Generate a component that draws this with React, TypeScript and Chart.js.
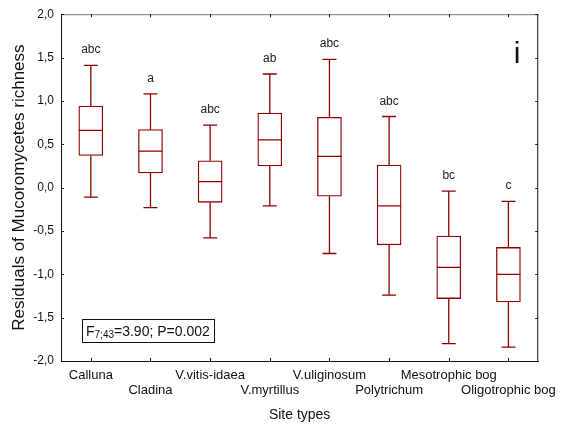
import React, { useEffect, useRef } from "react";
import { Chart, registerables } from "chart.js";

Chart.register(...registerables);

const categories = [
  "Calluna",
  "Cladina",
  "V.vitis-idaea",
  "V.myrtillus",
  "V.uliginosum",
  "Polytrichum",
  "Mesotrophic bog",
  "Oligotrophic bog",
];
const whiskerMax = [1.41, 1.08, 0.72, 1.31, 1.48, 0.82, -0.04, -0.16];
const q3 = [0.94, 0.67, 0.31, 0.86, 0.81, 0.26, -0.56, -0.69];
const medians = [0.66, 0.42, 0.07, 0.55, 0.36, -0.21, -0.92, -1.0];
const q1 = [0.37, 0.17, -0.17, 0.25, -0.1, -0.66, -1.28, -1.32];
const whiskerMin = [-0.11, -0.23, -0.58, -0.21, -0.76, -1.24, -1.8, -1.84];
const letters = ["abc", "a", "abc", "ab", "abc", "abc", "bc", "c"];

const yMin = -2;
const yMax = 2;
const yStep = 0.5;
const xTitle = "Site types";
const yTitle = "Residuals of Mucoromycetes richness";
const panelLetter = "i";
const statMain = "F";
const statSub = "7;43";
const statRest = "=3.90; P=0.002";

const RED = "#8b0000";
const FONT = "Arial, 'Liberation Sans', sans-serif";

const boxPlugin = {
  id: "boxPlugin",
  afterDatasetsDraw(chart: any) {
    const ctx = chart.ctx;
    const xs = chart.scales.x;
    const ys = chart.scales.y;
    ctx.save();
    ctx.strokeStyle = RED;
    ctx.lineWidth = 1.3;
    const half = 12;
    const cap = 7;
    categories.forEach((_, i) => {
      const x = xs.getPixelForValue(i);
      const yTop = ys.getPixelForValue(whiskerMax[i]);
      const yQ3 = ys.getPixelForValue(q3[i]);
      const yMed = ys.getPixelForValue(medians[i]);
      const yQ1 = ys.getPixelForValue(q1[i]);
      const yBot = ys.getPixelForValue(whiskerMin[i]);
      ctx.beginPath();
      ctx.moveTo(x, yQ3);
      ctx.lineTo(x, yTop);
      ctx.moveTo(x - cap, yTop);
      ctx.lineTo(x + cap, yTop);
      ctx.moveTo(x, yQ1);
      ctx.lineTo(x, yBot);
      ctx.moveTo(x - cap, yBot);
      ctx.lineTo(x + cap, yBot);
      ctx.moveTo(x - half, yMed);
      ctx.lineTo(x + half, yMed);
      ctx.stroke();
      ctx.fillStyle = "#222";
      ctx.font = "12px " + FONT;
      ctx.textAlign = "center";
      ctx.textBaseline = "alphabetic";
      ctx.fillText(letters[i], x, yTop - 12);
    });
    ctx.restore();
  },
  afterDraw(chart: any) {
    const ctx = chart.ctx;
    const a = chart.chartArea;
    const xs = chart.scales.x;
    const ys = chart.scales.y;
    ctx.save();
    // frame
    ctx.lineWidth = 1;
    ctx.strokeStyle = "#777";
    ctx.beginPath();
    ctx.moveTo(a.left, a.top + 0.5);
    ctx.lineTo(a.right, a.top + 0.5);
    ctx.stroke();
    ctx.strokeStyle = "#111";
    ctx.beginPath();
    ctx.moveTo(a.right - 0.5, a.top);
    ctx.lineTo(a.right - 0.5, a.bottom);
    ctx.stroke();
    // inward ticks
    ctx.strokeStyle = "#111";
    ctx.beginPath();
    ys.ticks.forEach((t: any) => {
      const y = Math.round(ys.getPixelForValue(t.value)) + 0.5;
      ctx.moveTo(a.left, y);
      ctx.lineTo(a.left + 3, y);
      ctx.moveTo(a.right, y);
      ctx.lineTo(a.right - 3, y);
    });
    categories.forEach((_, i) => {
      const x = Math.round(xs.getPixelForValue(i)) + 0.5;
      ctx.moveTo(x, a.bottom);
      ctx.lineTo(x, a.bottom - 3);
      ctx.moveTo(x, a.top);
      ctx.lineTo(x, a.top + 3);
    });
    ctx.stroke();
    // axis titles
    ctx.fillStyle = "#111";
    ctx.font = "14px " + FONT;
    ctx.textAlign = "center";
    ctx.textBaseline = "middle";
    ctx.fillText(xTitle, (a.left + a.right) / 2, 415);
    ctx.save();
    ctx.translate(19, (a.top + a.bottom) / 2);
    ctx.rotate(-Math.PI / 2);
    ctx.font = "17px " + FONT;
    ctx.fillText(yTitle, 0, 0);
    ctx.restore();
    // panel letter
    ctx.font = "30px " + FONT;
    ctx.textAlign = "center";
    ctx.textBaseline = "alphabetic";
    ctx.fillText(panelLetter, 517, 63);
    // stat box
    const bx = 82.5, by = 319.5, bw = 132, bh = 23;
    ctx.fillStyle = "#fff";
    ctx.fillRect(bx, by, bw, bh);
    ctx.strokeStyle = "#111";
    ctx.strokeRect(bx, by, bw, bh);
    ctx.fillStyle = "#111";
    ctx.textAlign = "left";
    let tx = 86;
    const base = 336;
    ctx.font = "14px " + FONT;
    ctx.fillText(statMain, tx, base);
    tx += ctx.measureText(statMain).width;
    ctx.font = "10px " + FONT;
    ctx.fillText(statSub, tx, base + 2);
    tx += ctx.measureText(statSub).width;
    ctx.font = "14px " + FONT;
    ctx.fillText(statRest, tx, base);
    ctx.restore();
  },
};

export default function App() {
  const ref = useRef<HTMLCanvasElement | null>(null);
  useEffect(() => {
    document.body.style.margin = "0";
    const canvas = ref.current;
    if (!canvas) return;
    const chart = new Chart(canvas, {
      type: "bar",
      data: {
        labels: categories,
        datasets: [
          {
            data: categories.map((_, i) => [q1[i], q3[i]]) as any,
            backgroundColor: "#ffffff",
            borderColor: RED,
            borderWidth: 1.3,
            borderSkipped: false,
            barThickness: 24,
          },
        ],
      },
      options: {
        responsive: false,
        animation: false,
        devicePixelRatio: 1,
        layout: { padding: { left: 0, right: 20, top: 14, bottom: 0 } },
        plugins: { legend: { display: false }, tooltip: { enabled: false } },
        scales: {
          x: {
            grid: { display: false, drawTicks: false },
            border: { display: true, color: "#111", width: 1 },
            ticks: {
              autoSkip: false,
              maxRotation: 0,
              minRotation: 0,
              padding: 7,
              color: "#111",
              font: { family: FONT, size: 13, lineHeight: 1.15 },
              callback: (_v: any, i: number) =>
                i % 2 === 0 ? [categories[i]] : ["", categories[i]],
            },
            afterFit: (s: any) => {
              s.height = 68;
            },
          },
          y: {
            min: yMin,
            max: yMax,
            grid: { display: false, drawTicks: false },
            border: { display: true, color: "#111", width: 1 },
            ticks: {
              stepSize: yStep,
              padding: 7,
              color: "#111",
              font: { family: FONT, size: 12 },
              callback: (v: any) => Number(v).toFixed(1).replace(".", ","),
            },
            afterFit: (s: any) => {
              s.width = 61;
            },
          },
        },
      },
      plugins: [boxPlugin],
    });
    return () => chart.destroy();
  }, []);
  return (
    <canvas
      ref={ref}
      width={564}
      height={429}
      style={{ display: "block", width: 564, height: 429 }}
    />
  );
}
